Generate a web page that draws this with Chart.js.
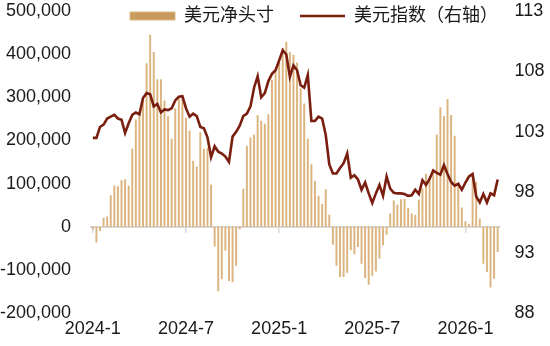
<!DOCTYPE html>
<html lang="zh-CN">
<head>
<meta charset="utf-8">
<title>美元净头寸与美元指数</title>
<script src="https://cdn.jsdelivr.net/npm/chart.js@4.4.1/dist/chart.umd.min.js"></script>
<style>
  html, body { margin: 0; padding: 0; background: #fff; }
  #wrap { width: 550px; height: 346px; position: relative; }
</style>
</head>
<body>
<div id="wrap"><canvas id="dxyChart"></canvas></div>
<script>
// Weekly USD net position (CFTC) against the dollar index, Jan 2024 - Mar 2026

const firstWeek = [2024, 1, 2];   // first weekly report date (Tuesday)
const tickLabels = ['2024-1', '2024-7', '2025-1', '2025-7', '2026-1'];

// net long USD position, contracts
const netLong = [
  -5000, -36000, -9000, 20000, 23000, 72000, 95000, 93000, 107000, 109000,
  95000, 180000, 248000, 262000, 300000, 378000, 444000, 404000, 341000, 341000,
  292000, 255000, 203000, 273000, 296000, 300000, 252000, 222000, 152000, 139000,
  218000, 180000, 182000, 97000, -45000, -149000, -121000, -55000, -125000, -128000,
  -90000, -5000, 87000, 187000, 206000, 213000, 258000, 245000, 238000, 260000,
  340000, 360000, 380000, 414000, 428000, 404000, 398000, 380000, 320000, 285000,
  203000, 144000, 105000, 71000, 52000, 86000, 27000, -41000, -90000, -116000,
  -116000, -106000, -54000, -63000, -46000, -85000, -118000, -134000, -113000, -103000,
  -73000, -42000, -18000, 30000, 60000, 50000, 63000, 64000, 43000, 30000,
  27000, 62000, 88000, 122000, 117000, 130000, 213000, 276000, 256000, 295000,
  258000, 210000, 97000, 44000, 12000, 6000, 118000, 103000, 18000, -85000,
  -104000, -140000, -120000, -58000
];

// dollar index, weekly close (right axis)
const dxy = [
  102.5, 102.5, 103.4, 103.6, 104.1, 104.25, 104.4, 104.1, 104.0, 102.9,
  103.7, 104.4, 104.6, 104.45, 105.8, 106.2, 106.1, 105.1, 105.3, 104.6,
  104.85, 104.8, 104.95, 105.6, 105.9, 105.95, 104.95, 104.25, 104.5, 104.3,
  103.4, 103.3, 102.55, 100.9, 101.8, 101.35, 101.2, 100.95, 100.5, 102.6,
  103.0, 103.5, 104.3, 104.5, 105.1, 106.65, 107.6, 105.85, 106.2, 107.2,
  107.8, 108.1, 108.9, 109.75, 109.4, 107.55, 108.5, 108.1, 106.85, 106.65,
  107.7, 103.9, 103.9, 104.25, 104.1, 102.75, 100.3, 99.55, 99.55, 100.0,
  100.4, 101.2, 99.2, 99.4, 99.05, 98.2, 98.8, 97.9, 97.1, 97.9,
  98.6, 97.7, 99.3, 98.3, 97.95, 97.9, 97.9, 97.85, 97.7, 97.75,
  98.2, 97.85, 99.0, 98.6, 99.1, 99.8, 99.6, 99.45, 100.25, 99.5,
  98.85, 98.55, 98.7, 98.2, 98.8, 99.3, 99.5, 97.65, 97.15, 97.85,
  97.15, 97.9, 97.75, 99.05
];

// weekly category labels
const weeks = netLong.map((_, i) => {
  const d = new Date(Date.UTC(firstWeek[0], firstWeek[1] - 1, firstWeek[2] + 7 * i));
  return d.toISOString().slice(0, 10);
});

// put each month label on the week closest to the 1st of that month
const tickAt = {};
tickLabels.forEach(lbl => {
  const [y, m] = lbl.split('-').map(Number);
  const t = Date.UTC(y, m - 1, 1);
  let best = 0, bestGap = Infinity;
  weeks.forEach((w, i) => {
    const gap = Math.abs(Date.parse(w) - t);
    if (gap < bestGap) { bestGap = gap; best = i; }
  });
  tickAt[best] = lbl;
});

const FONT = "'Liberation Sans', Arial, 'Noto Sans CJK SC', sans-serif";
const TEXT = '#1a1a1a';
const BAR = '#dcb47f';
const LINE = '#7a1e0f';
const AXIS = '#d9d9d9';

Chart.defaults.font.family = FONT;
Chart.defaults.font.size = 18;
Chart.defaults.color = TEXT;

// tick padding counts once (gap to the plot only), and labels may overhang the plot edge
function trimAxis(scale) {
  const p = scale.options.ticks.padding;
  if (scale.isHorizontal()) {
    scale.height -= p;
  } else {
    scale.width -= p;
    scale.paddingTop = 11;
    scale.paddingBottom = 11;
  }
}

// legend overlaps the top of the plot, one row, right of centre
const legendPlace = {
  id: 'legendPlace',
  afterLayout(chart) {
    const lg = chart.legend;
    if (!lg) return;
    const pad = lg.options.labels.padding;
    lg.left = 130 - pad;
    lg.right = lg.left + lg.width;
    lg.top = 16 - pad - 9;
    lg.bottom = 40;
  }
};

new Chart(document.getElementById('dxyChart'), {
  type: 'bar',
  data: {
    labels: weeks,
    datasets: [
      {
        type: 'line',
        label: '美元指数（右轴）',
        data: dxy,
        yAxisID: 'y1',
        borderColor: LINE,
        borderWidth: 2.6,
        pointRadius: 0,
        tension: 0,
        order: 0
      },
      {
        type: 'bar',
        label: '美元净头寸',
        data: netLong,
        yAxisID: 'y',
        backgroundColor: BAR,
        barThickness: 1.3,
        order: 1
      }
    ]
  },
  options: {
    responsive: true,
    maintainAspectRatio: false,
    animation: false,
    layout: { padding: { left: 0, right: 5.5, top: 0, bottom: 6.4 } },
    plugins: {
      legend: {
        position: 'top',
        align: 'start',
        maxHeight: 1,
        labels: {
          usePointStyle: true,
          pointStyleWidth: 45,
          boxHeight: 8,
          padding: 26,
          font: { size: 18 },
          generateLabels: () => [
            { text: '美元净头寸', fillStyle: '#c99a5f', strokeStyle: '#ddb883', lineWidth: 1,
              pointStyle: 'rect', datasetIndex: 1, hidden: false, fontColor: TEXT },
            { text: '美元指数（右轴）', fillStyle: LINE, strokeStyle: LINE, lineWidth: 2.6,
              pointStyle: 'line', datasetIndex: 0, hidden: false, fontColor: TEXT }
          ]
        }
      },
      tooltip: { enabled: false }
    },
    scales: {
      x: {
        type: 'category',
        offset: true,
        grid: { display: false, drawTicks: false },
        border: { display: false },
        afterFit: trimAxis,
        ticks: {
          autoSkip: false,
          maxRotation: 0,
          minRotation: 0,
          padding: 5,
          callback: (v, i) => tickAt[i] ?? null
        }
      },
      // zero line with small month tick marks
      x2: {
        type: 'category',
        position: { y: 0 },
        offset: true,
        grid: {
          display: true,
          drawOnChartArea: false,
          drawTicks: true,
          tickLength: 5,
          offset: false,
          lineWidth: 1.5,
          color: c => (tickAt[c.index] ? AXIS : 'rgba(0,0,0,0)')
        },
        border: { display: true, color: AXIS, width: 2 },
        ticks: { display: false, autoSkip: false }
      },
      y: {
        position: 'left',
        min: -200000,
        max: 500000,
        grid: { display: false, drawTicks: false },
        border: { display: false },
        afterFit: trimAxis,
        ticks: {
          stepSize: 100000,
          padding: 20,
          callback: v => v.toLocaleString('en-US')
        }
      },
      y1: {
        position: 'right',
        min: 88,
        max: 113,
        grid: { display: false, drawTicks: false },
        border: { display: false },
        afterFit: trimAxis,
        ticks: { stepSize: 5, padding: 15 }
      }
    }
  },
  plugins: [legendPlace]
});
</script>
</body>
</html>
